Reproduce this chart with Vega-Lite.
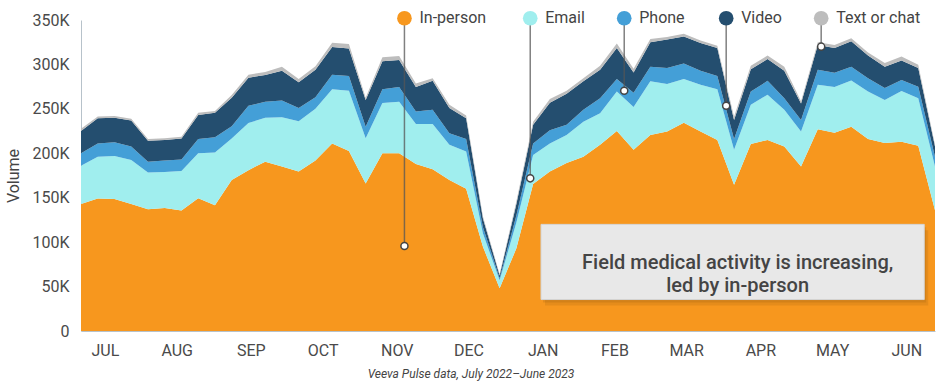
{
  "$schema": "https://vega.github.io/schema/vega-lite/v6.json",
  "width": 854,
  "height": 311,
  "autosize": {"type": "none"},
  "padding": {"left": 81, "top": 20, "right": 6, "bottom": 57},
  "background": "white",
  "title": {
    "text": "Veeva Pulse data, July 2022\u2013June 2023",
    "orient": "bottom",
    "anchor": "middle",
    "dx": -37,
    "offset": 11,
    "fontSize": 12,
    "fontStyle": "italic",
    "fontWeight": "normal",
    "color": "#444444",
    "font": "Roboto"
  },
  "datasets": {
    "weekly": [
      {"date":"2022-07-03","In-person":143000,"Email":43000,"Phone":14000,"Video":25000,"Text or chat":2500},
      {"date":"2022-07-10","In-person":149000,"Email":47000,"Phone":15000,"Video":28500,"Text or chat":2000},
      {"date":"2022-07-17","In-person":148500,"Email":48500,"Phone":15500,"Video":27500,"Text or chat":2000},
      {"date":"2022-07-24","In-person":143000,"Email":49500,"Phone":15000,"Video":29500,"Text or chat":2000},
      {"date":"2022-07-31","In-person":137000,"Email":41500,"Phone":12000,"Video":23500,"Text or chat":2000},
      {"date":"2022-08-07","In-person":138500,"Email":40500,"Phone":13000,"Video":23000,"Text or chat":2000},
      {"date":"2022-08-14","In-person":135500,"Email":44500,"Phone":13000,"Video":23500,"Text or chat":2000},
      {"date":"2022-08-21","In-person":149500,"Email":50500,"Phone":16000,"Video":27000,"Text or chat":2500},
      {"date":"2022-08-28","In-person":141500,"Email":59500,"Phone":17000,"Video":27500,"Text or chat":2000},
      {"date":"2022-09-04","In-person":170000,"Email":46500,"Phone":14000,"Video":32000,"Text or chat":3000},
      {"date":"2022-09-11","In-person":181000,"Email":53000,"Phone":19500,"Video":31500,"Text or chat":3500},
      {"date":"2022-09-18","In-person":190500,"Email":49500,"Phone":18000,"Video":30000,"Text or chat":3500},
      {"date":"2022-09-25","In-person":185000,"Email":55500,"Phone":19000,"Video":33500,"Text or chat":4500},
      {"date":"2022-10-02","In-person":179500,"Email":56500,"Phone":15000,"Video":29000,"Text or chat":3500},
      {"date":"2022-10-09","In-person":192000,"Email":58000,"Phone":13000,"Video":31000,"Text or chat":4000},
      {"date":"2022-10-16","In-person":211000,"Email":61000,"Phone":16500,"Video":31000,"Text or chat":5000},
      {"date":"2022-10-23","In-person":202500,"Email":68000,"Phone":16500,"Video":31000,"Text or chat":5000},
      {"date":"2022-10-30","In-person":166000,"Email":51000,"Phone":13000,"Video":30000,"Text or chat":2500},
      {"date":"2022-11-06","In-person":200000,"Email":56500,"Phone":15500,"Video":31500,"Text or chat":4500},
      {"date":"2022-11-13","In-person":200000,"Email":58000,"Phone":16500,"Video":30500,"Text or chat":4500},
      {"date":"2022-11-20","In-person":188000,"Email":45000,"Phone":14000,"Video":27500,"Text or chat":4000},
      {"date":"2022-11-27","In-person":182000,"Email":51000,"Phone":16000,"Video":32500,"Text or chat":3000},
      {"date":"2022-12-04","In-person":170000,"Email":39500,"Phone":13000,"Video":28500,"Text or chat":3500},
      {"date":"2022-12-11","In-person":160000,"Email":42000,"Phone":14000,"Video":23500,"Text or chat":3000},
      {"date":"2022-12-18","In-person":95000,"Email":15000,"Phone":7000,"Video":10000,"Text or chat":2000},
      {"date":"2022-12-25","In-person":48000,"Email":9000,"Phone":2500,"Video":3000,"Text or chat":1500},
      {"date":"2023-01-01","In-person":93000,"Email":29000,"Phone":8000,"Video":13000,"Text or chat":3000},
      {"date":"2023-01-08","In-person":165500,"Email":32500,"Phone":13000,"Video":21000,"Text or chat":3500},
      {"date":"2023-01-15","In-person":179500,"Email":31500,"Phone":15000,"Video":31000,"Text or chat":4000},
      {"date":"2023-01-22","In-person":189000,"Email":31500,"Phone":11500,"Video":35000,"Text or chat":3500},
      {"date":"2023-01-29","In-person":196000,"Email":39500,"Phone":13500,"Video":32000,"Text or chat":3500},
      {"date":"2023-02-05","In-person":209500,"Email":35500,"Phone":17000,"Video":32000,"Text or chat":4500},
      {"date":"2023-02-12","In-person":225000,"Email":44500,"Phone":14000,"Video":35000,"Text or chat":5000},
      {"date":"2023-02-19","In-person":204000,"Email":48000,"Phone":16000,"Video":23000,"Text or chat":4000},
      {"date":"2023-02-26","In-person":220500,"Email":60500,"Phone":16500,"Video":27500,"Text or chat":3500},
      {"date":"2023-03-05","In-person":224500,"Email":53500,"Phone":18000,"Video":32000,"Text or chat":3000},
      {"date":"2023-03-12","In-person":234500,"Email":49000,"Phone":17500,"Video":30500,"Text or chat":3000},
      {"date":"2023-03-19","In-person":224500,"Email":52500,"Phone":16000,"Video":31000,"Text or chat":3000},
      {"date":"2023-03-26","In-person":215000,"Email":57000,"Phone":15000,"Video":31500,"Text or chat":2500},
      {"date":"2023-04-02","In-person":164500,"Email":39500,"Phone":12000,"Video":21500,"Text or chat":3500},
      {"date":"2023-04-09","In-person":210500,"Email":44000,"Phone":15000,"Video":25000,"Text or chat":4000},
      {"date":"2023-04-16","In-person":215000,"Email":51000,"Phone":15500,"Video":24500,"Text or chat":4000},
      {"date":"2023-04-23","In-person":207500,"Email":41500,"Phone":13000,"Video":31000,"Text or chat":4500},
      {"date":"2023-04-30","In-person":185000,"Email":39500,"Phone":13000,"Video":18500,"Text or chat":2500},
      {"date":"2023-05-07","In-person":227000,"Email":50000,"Phone":17000,"Video":28000,"Text or chat":3000},
      {"date":"2023-05-14","In-person":223000,"Email":51500,"Phone":16000,"Video":28000,"Text or chat":3500},
      {"date":"2023-05-21","In-person":230000,"Email":52000,"Phone":15500,"Video":28500,"Text or chat":3500},
      {"date":"2023-05-28","In-person":216000,"Email":53500,"Phone":15000,"Video":25500,"Text or chat":3500},
      {"date":"2023-06-04","In-person":211500,"Email":48500,"Phone":13500,"Video":24000,"Text or chat":4000},
      {"date":"2023-06-11","In-person":213000,"Email":57000,"Phone":12500,"Video":22000,"Text or chat":4500},
      {"date":"2023-06-18","In-person":208500,"Email":53500,"Phone":13000,"Video":21000,"Text or chat":3500},
      {"date":"2023-06-25","In-person":136000,"Email":49000,"Phone":11000,"Video":11500,"Text or chat":2000}
    ],
    "callouts": [
      {"channel":"In-person","date":"2022-11-15T05:00:00Z","value":95700},
      {"channel":"Email","date":"2023-01-06T19:00:00Z","value":171800},
      {"channel":"Phone","date":"2023-02-15T02:00:00Z","value":270400},
      {"channel":"Video","date":"2023-03-29T17:00:00Z","value":253500},
      {"channel":"Text or chat","date":"2023-05-08T10:00:00Z","value":320000}
    ],
    "note": [
      {"start":"2023-01-11T07:00:00Z","end":"2023-06-20T12:00:00Z","center":"2023-04-03T12:00:00Z","text":"Field medical activity is increasing,\nled by in-person"}
    ]
  },
  "layer": [
    {
      "data": {"name": "weekly"},
      "transform": [
        {"fold": ["In-person","Email","Phone","Video","Text or chat"], "as": ["channel","value"]},
        {"calculate": "indexof(['In-person','Email','Phone','Video','Text or chat'], datum.channel)", "as": "ord"}
      ],
      "mark": {"type": "area", "interpolate": "linear"},
      "encoding": {
        "x": {
          "field": "date", "type": "temporal", "title": null,
          "scale": {"type": "utc", "nice": false, "domain": [{"year":2022,"month":7,"date":3,"utc":true},{"year":2023,"month":6,"date":25,"utc":true}]},
          "axis": {
            "title": null,
            "values": [
              {"year":2022,"month":7,"date":13,"utc":true},
              {"year":2022,"month":8,"date":12,"utc":true},
              {"year":2022,"month":9,"date":12,"utc":true},
              {"year":2022,"month":10,"date":12,"utc":true},
              {"year":2022,"month":11,"date":12,"utc":true},
              {"year":2022,"month":12,"date":12,"utc":true},
              {"year":2023,"month":1,"date":12,"utc":true},
              {"year":2023,"month":2,"date":11,"utc":true},
              {"year":2023,"month":3,"date":13,"utc":true},
              {"year":2023,"month":4,"date":13,"utc":true},
              {"year":2023,"month":5,"date":13,"utc":true},
              {"year":2023,"month":6,"date":13,"utc":true}
            ],
            "labelExpr": "upper(utcFormat(datum.value, '%b'))",
            "ticks": false,
            "grid": false,
            "domainColor": "#b7c2ca",
            "labelPadding": 11,
            "labelFontSize": 16,
            "labelColor": "#4a4a4a",
            "labelFont": "Roboto",
            "labelFlush": false,
            "labelOverlap": false
          }
        },
        "y": {
          "field": "value", "type": "quantitative", "stack": "zero", "title": "Volume",
          "scale": {"domain": [0, 350000], "nice": false},
          "axis": {
            "title": "Volume",
            "values": [0,50000,100000,150000,200000,250000,300000,350000],
            "labelExpr": "datum.value == 0 ? '0' : (datum.value / 1000) + 'K'",
            "ticks": false,
            "grid": false,
            "domainColor": "#b7c2ca",
            "labelPadding": 12,
            "labelFontSize": 16,
            "labelColor": "#4a4a4a",
            "labelFont": "Roboto",
            "titleFont": "Roboto",
            "titleFontSize": 16,
            "titleFontWeight": "normal",
            "titleColor": "#444444",
            "titlePadding": 10
          }
        },
        "color": {
          "field": "channel", "type": "nominal",
          "scale": {"domain": ["In-person","Email","Phone","Video","Text or chat"], "range": ["#F7971E","#A0EEEE","#449FD7","#244E6F","#BDBDBD"]},
          "legend": null
        },
        "order": {"field": "ord", "type": "quantitative", "sort": "ascending"}
      }
    },
    {
      "data": {"name": "note"},
      "mark": {"type": "rect", "fill": "#000000", "opacity": 0.07, "xOffset": 4, "x2Offset": 4, "yOffset": 6, "y2Offset": 6},
      "encoding": {
        "x": {"field": "start", "type": "temporal", "title": null},
        "x2": {"field": "end"},
        "y": {"datum": 120000, "type": "quantitative", "title": "Volume"},
        "y2": {"datum": 35400}
      }
    },
    {
      "data": {"name": "note"},
      "mark": {"type": "rect", "fill": "#000000", "opacity": 0.08, "xOffset": 2, "x2Offset": 2, "yOffset": 3, "y2Offset": 3},
      "encoding": {
        "x": {"field": "start", "type": "temporal", "title": null},
        "x2": {"field": "end"},
        "y": {"datum": 120000, "type": "quantitative", "title": "Volume"},
        "y2": {"datum": 35400}
      }
    },
    {
      "data": {"name": "note"},
      "mark": {"type": "rect", "fill": "#E8E8E8", "stroke": "#D4D4D4", "strokeWidth": 1},
      "encoding": {
        "x": {"field": "start", "type": "temporal", "title": null},
        "x2": {"field": "end"},
        "y": {"datum": 120000, "type": "quantitative", "title": "Volume"},
        "y2": {"datum": 35400}
      }
    },
    {
      "data": {"name": "note"},
      "mark": {"type": "text", "align": "center", "baseline": "middle", "lineBreak": "\n", "lineHeight": 23, "fontSize": 20, "fontWeight": 500, "font": "Roboto", "color": "#444444"},
      "encoding": {
        "x": {"field": "center", "type": "temporal", "title": null},
        "y": {"datum": 76500, "type": "quantitative", "title": "Volume"},
        "text": {"field": "text"}
      }
    },
    {
      "data": {"name": "callouts"},
      "mark": {"type": "rule", "color": "#555555", "opacity": 0.75, "strokeWidth": 1.5},
      "encoding": {
        "x": {"field": "date", "type": "temporal", "title": null},
        "y": {"field": "value", "type": "quantitative", "title": "Volume"},
        "y2": {"datum": 352000}
      }
    },
    {
      "data": {"name": "callouts"},
      "mark": {"type": "point", "filled": true, "size": 215, "opacity": 1},
      "encoding": {
        "x": {"field": "date", "type": "temporal", "title": null},
        "y": {"datum": 352000, "type": "quantitative", "title": "Volume"},
        "color": {"field": "channel", "type": "nominal", "legend": null}
      }
    },
    {
      "data": {"name": "callouts"},
      "mark": {"type": "text", "align": "left", "baseline": "middle", "dx": 15, "fontSize": 16, "font": "Roboto", "color": "#444444"},
      "encoding": {
        "x": {"field": "date", "type": "temporal", "title": null},
        "y": {"datum": 352000, "type": "quantitative", "title": "Volume"},
        "text": {"field": "channel"}
      }
    },
    {
      "data": {"name": "callouts"},
      "mark": {"type": "point", "filled": true, "fill": "#FFFFFF", "stroke": "#444444", "strokeWidth": 1.5, "size": 50, "opacity": 1},
      "encoding": {
        "x": {"field": "date", "type": "temporal", "title": null},
        "y": {"field": "value", "type": "quantitative", "title": "Volume"}
      }
    }
  ],
  "config": {
    "view": {"stroke": null},
    "font": "Roboto"
  }
}
